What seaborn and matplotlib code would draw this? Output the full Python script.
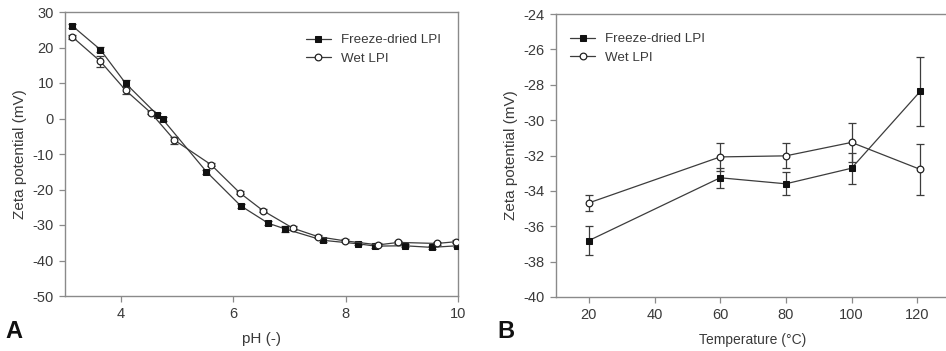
import numpy as np
import pandas as pd
import matplotlib
matplotlib.use("Agg")
import matplotlib.pyplot as plt
import seaborn as sns

# ---- Panel A data (zeta potential vs pH) ----
ph_fd = [3.13, 3.63, 4.08, 4.64, 4.74, 5.52, 6.13, 6.62, 6.92, 7.59, 8.22, 8.53, 9.05, 9.53, 9.99]
zeta_fd = [26.1, 19.4, 9.9, 1.1, -0.2, -15.0, -24.6, -29.5, -31.1, -34.3, -35.3, -35.95, -35.85, -36.3, -35.85]
err_fd = [0.6, 0.8, 1.0, 0.5, 0.5, 0.6, 0.5, 0.5, 0.9, 0.5, 0.4, 0.5, 0.4, 0.4, 0.4]
ph_wet = [3.13, 3.63, 4.08, 4.53, 4.95, 5.60, 6.11, 6.53, 7.06, 7.51, 7.98, 8.58, 8.94, 9.62, 9.97]
zeta_wet = [23.0, 16.1, 7.95, 1.6, -6.1, -13.0, -20.9, -26.0, -30.9, -33.3, -34.45, -35.6, -34.9, -35.2, -34.7]
err_wet = [0.5, 1.5, 1.0, 0.4, 1.0, 0.5, 0.4, 0.4, 0.6, 0.4, 0.4, 0.4, 0.4, 0.4, 0.4]

# ---- Panel B data (zeta potential vs temperature) ----
temp = [20, 60, 80, 100, 121]
zeta_fd_t = [-36.81, -33.26, -33.6, -32.72, -28.36]
err_fd_t = [0.8, 0.55, 0.65, 0.87, 1.95]
zeta_wet_t = [-34.68, -32.08, -32.02, -31.26, -32.79]
err_wet_t = [0.46, 0.78, 0.7, 1.1, 1.43]

series_names = ["Freeze-dried LPI", "Wet LPI"]

sns.set_style("ticks")
plt.rcParams["font.family"] = ["Liberation Sans", "DejaVu Sans"]
plt.rcParams["axes.unicode_minus"] = False
txt = "#3a3a3a"
line_c = "#3c3c3c"
spine_c = "#8a8a8a"

fig = plt.figure(figsize=(9.46, 3.51), dpi=100)
axA = fig.add_axes([65/946, 55/351, (458-65)/946, (296-12)/351])
axB = fig.add_axes([556/946, 54/351, 394/946, (297-14)/351])


def draw(ax, x1, y1, e1, x2, y2, e2):
    df1 = pd.DataFrame({"x": x1, "y": y1})
    df2 = pd.DataFrame({"x": x2, "y": y2})
    ax.errorbar(x1, y1, yerr=e1, fmt="none", ecolor=line_c, elinewidth=0.9, capsize=3.2, capthick=0.9, zorder=2)
    ax.errorbar(x2, y2, yerr=e2, fmt="none", ecolor=line_c, elinewidth=0.9, capsize=3.2, capthick=0.9, zorder=2)
    sns.lineplot(data=df1, x="x", y="y", ax=ax, color=line_c, lw=0.9, marker="s", markersize=5,
                 markerfacecolor="#111111", markeredgecolor="#111111", label=series_names[0],
                 sort=False, estimator=None, zorder=3)
    sns.lineplot(data=df2, x="x", y="y", ax=ax, color=line_c, lw=0.9, marker="o", markersize=4.8,
                 markerfacecolor="white", markeredgecolor="#222222", markeredgewidth=0.9,
                 label=series_names[1], sort=False, estimator=None, zorder=3)


draw(axA, ph_fd, zeta_fd, err_fd, ph_wet, zeta_wet, err_wet)
draw(axB, temp, zeta_fd_t, err_fd_t, temp, zeta_wet_t, err_wet_t)

axA.set_xlim(3, 10)
axA.set_ylim(-50, 30)
axA.set_xticks([4, 6, 8, 10])
axA.set_yticks(np.arange(-50, 31, 10))
axB.set_xlim(10, 130)
axB.set_ylim(-40, -24)
axB.set_xticks([20, 40, 60, 80, 100, 120])
axB.set_yticks(np.arange(-40, -23, 2))

for ax in (axA, axB):
    for s in ax.spines.values():
        s.set_visible(True)
        s.set_color(spine_c)
        s.set_linewidth(1.0)
    ax.tick_params(axis="both", direction="out", length=4, width=0.9, color=spine_c,
                   labelsize=10.5, labelcolor=txt, pad=4)
    ax.tick_params(top=False, right=False)
    ax.set_ylabel("Zeta potential (mV)", fontsize=11, color=txt, labelpad=4)

axA.set_xlabel("pH (-)", fontsize=11, color=txt, labelpad=8)
axB.set_xlabel("Temperature (°C)", fontsize=10, color=txt, labelpad=8)

leg_kw = dict(frameon=False, fontsize=9.6, handlelength=1.9, handletextpad=0.75,
              labelspacing=0.45, labelcolor=txt, loc="upper left")
axA.legend(bbox_to_anchor=(0.582, 0.965), **leg_kw)
axB.legend(bbox_to_anchor=(0.005, 0.975), **leg_kw)

fig.text(5/946, 1 - 338/351, "A", fontsize=17, fontweight="bold", color="#111111")
fig.text(497/946, 1 - 338/351, "B", fontsize=17, fontweight="bold", color="#111111")

fig.savefig("out.png", dpi=100)
